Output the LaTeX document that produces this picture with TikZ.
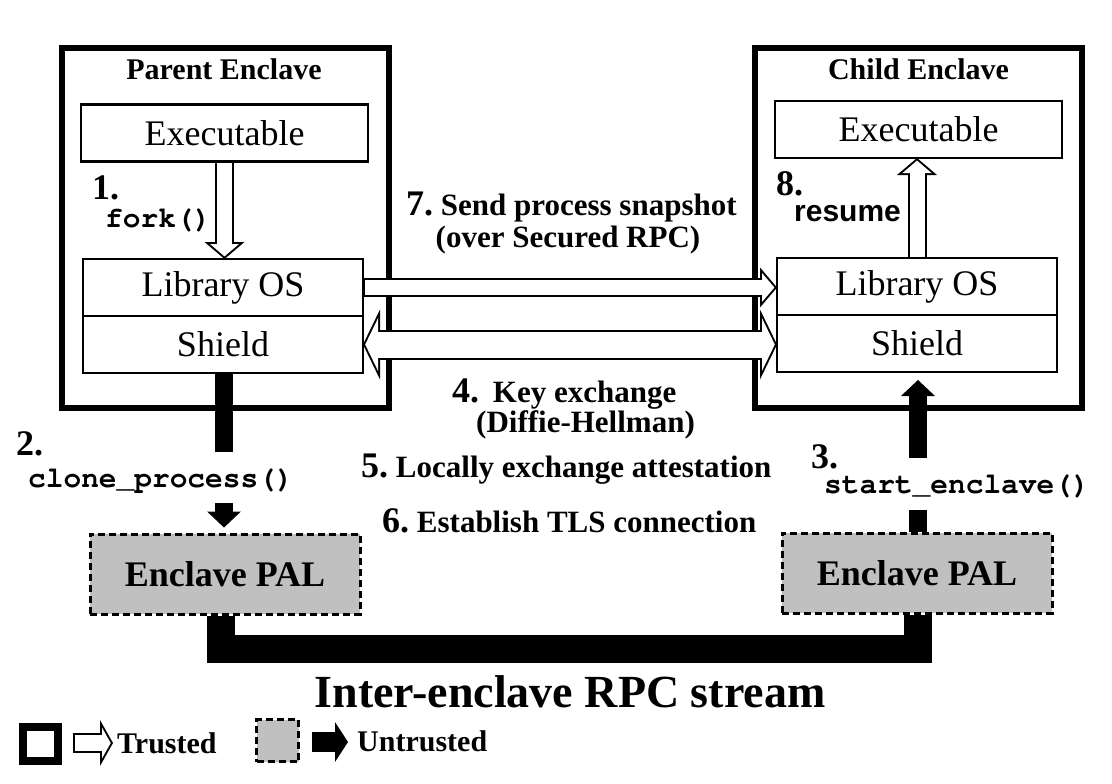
\documentclass[tikz,border=0pt]{standalone}
\usepackage{fontspec}
\usepackage[T1,TU]{fontenc}
\setmainfont{Liberation Serif}
\setsansfont{Liberation Sans}
\setmonofont{Liberation Mono}
\usetikzlibrary{arrows.meta,positioning}
\definecolor{palgray}{RGB}{192,192,192}
\newcommand{\stepno}[1]{{\fontsize{36}{40}\selectfont #1.}\ }
\newcommand{\callfont}{\fontencoding{T1}\fontfamily{pcr}\fontseries{b}\fontsize{29.5}{32}\selectfont}
\tikzset{
	encl/.style={draw, line width=6pt, minimum width=327pt, minimum height=360pt, inner sep=0pt},
	titletxt/.style={anchor=base, inner sep=0pt, font=\bfseries\fontsize{30}{34}\selectfont},
	stackbox/.style={draw, line width=2.5pt, fill=white, minimum width=280pt, minimum height=57pt, inner sep=0pt, outer sep=0pt, font=\fontsize{36}{40}\selectfont},
	exebox/.style={stackbox, minimum width=287pt},
	palbox/.style={draw, line width=3pt, dash pattern=on 7pt off 4pt, fill=palgray, minimum width=270pt, minimum height=80pt, inner sep=0pt, font=\bfseries\fontsize{36}{40}\selectfont},
	steptxt/.style={anchor=base west, inner sep=0pt, font=\bfseries\fontsize{31}{34}\selectfont},
	numtxt/.style={anchor=base west, inner sep=0pt, font=\bfseries\fontsize{36}{40}\selectfont},
	calltxt/.style={anchor=base west, inner sep=0pt, font=\callfont},
	% hollow (trusted) arrows: black outline first, white inside
	trustarrow/.style={preaction={draw=black, line width=19pt, shorten <=0pt, shorten >=0pt, arrows={-Triangle[width=40pt,length=17pt,line width=0pt]}},
		draw=white, line width=15pt, shorten <=1.5pt, shorten >=2.6pt, arrows={-Triangle[width=29pt,length=12.4pt,line width=0pt]}},
	trustboth/.style={preaction={draw=black, line width=30pt, shorten <=0pt, shorten >=0pt, arrows={Triangle[width=70pt,length=17pt,line width=0pt]-Triangle[width=70pt,length=17pt,line width=0pt]}},
		draw=white, line width=26pt, shorten <=2.2pt, shorten >=2.2pt, arrows={Triangle[width=52.6pt,length=12.8pt,line width=0pt]-Triangle[width=52.6pt,length=12.8pt,line width=0pt]}},
	trustkey/.style={preaction={draw=black, line width=20pt, shorten <=0pt, shorten >=0pt, arrows={-Triangle[width=46pt,length=13pt,line width=0pt]}},
		draw=white, line width=16pt, shorten <=2pt, shorten >=2.3pt, arrows={-Triangle[width=30.8pt,length=8.7pt,line width=0pt]}},
	untrust/.style={line width=18pt, arrows={-Triangle[width=34pt,length=16pt,line width=0pt]}},
	untrustkey/.style={line width=20pt, arrows={-Triangle[width=40pt,length=13pt,line width=0pt]}},
	blkline/.style={line width=18pt},
	rpcline/.style={line width=28pt, line join=miter},
}
\begin{document}
\begin{tikzpicture}[x=1pt, y=-1pt]
	\useasboundingbox (0,0) rectangle (1112,784);
	% the two enclaves
	\node[encl] (parent) at (225,228) {};
	\node[encl] (child) at (918,228) {};
	\node[titletxt] at (224,80) {Parent Enclave};
	\node[titletxt] at (918.5,80) {Child Enclave};
	\node[exebox] (exeL) at (224.5,133) {Executable};
	\node[exebox] (exeR) at (918.5,129.5) {Executable};
	\node[stackbox] (libL) at (223,287.5) {Library OS};
	\node[stackbox, below=0pt of libL] (shieldL) {Shield};
	\node[stackbox] (libR) at (917,286.5) {Library OS};
	\node[stackbox, below=0pt of libR] (shieldR) {Shield};
	\node[palbox] (palL) at (225,574) {Enclave PAL};
	\node[palbox] (palR) at (917,573) {Enclave PAL};

	\draw[trustarrow] (exeL.south) -- (exeL.south |- libL.north);
	\draw[trustarrow] (libR.north) -- (libR.north |- exeR.south);
	\draw[trustarrow] (libL.east) -- (libL.east -| libR.west);
	\draw[trustboth] (shieldL.east) -- (shieldL.east -| shieldR.west);

	\coordinate (cutL) at (224,452); \coordinate (restL) at (224,503);
	\draw[blkline] (shieldL.south -| cutL) -- (cutL);
	\draw[untrust, shorten >=5pt] (restL) -- (restL |- palL.north);
	\coordinate (cutR) at (918,510); \coordinate (restR) at (918,458);
	\draw[blkline] (palR.north -| cutR) -- (cutR);
	\draw[untrust, shorten >=8pt] (restR) -- (restR |- shieldR.south);
	\draw[rpcline] ([xshift=-4.5pt]palL.south) -- ++(0,33) -| ([xshift=1pt]palR.south);

	\node[numtxt] at (92,199) {1.};
	\node[calltxt] at (105,227) {fork()};
	\node[numtxt] at (16,455) {2.};
	\node[calltxt] at (28,487) {clone\_process()};
	\node[numtxt] at (811,468) {3.};
	\node[calltxt] at (824,493) {start\_enclave()};
	\node[numtxt] at (776,195) {8.};
	\node[steptxt, font=\sffamily\bfseries\fontsize{30}{34}\selectfont] at (794,221) {resume};
	\node[steptxt] at (406,215) {\stepno{7}Send process snapshot};
	\node[steptxt, anchor=base] at (568,247) {(over Secured RPC)};
	\node[steptxt] at (452,402) {\stepno{4}\hspace{6pt}Key exchange};
	\node[steptxt, anchor=base] at (585.5,432) {(Diffie-Hellman)};
	\node[steptxt] at (361,477) {\stepno{5}Locally exchange attestation};
	\node[steptxt] at (382,532) {\stepno{6}Establish TLS connection};
	\node[anchor=base, inner sep=0pt, font=\bfseries\fontsize{46}{50}\selectfont] at (570,707) {Inter-enclave RPC stream};

	% legend
	\node[draw, line width=8pt, minimum width=35pt, minimum height=34pt, inner sep=0pt] (keyT) at (40.5,744) {};
	\node[steptxt, inner sep=4pt, font=\bfseries\fontsize{30}{34}\selectfont] (txtT) at (113,753) {Trusted};
	\coordinate (keyTa) at (73,743);
	\draw[trustkey] (keyTa) -- (keyTa -| txtT.west);
	\node[palbox, minimum width=42pt, minimum height=42pt] (keyU) at (277.5,740.5) {};
	\node[steptxt, inner sep=4pt, font=\bfseries\fontsize{30}{34}\selectfont] (txtU) at (353,751) {Untrusted};
	\coordinate (keyUa) at (312,742);
	\draw[untrustkey, shorten >=5pt] (keyUa) -- (keyUa -| txtU.west);
\end{tikzpicture}
\end{document}
